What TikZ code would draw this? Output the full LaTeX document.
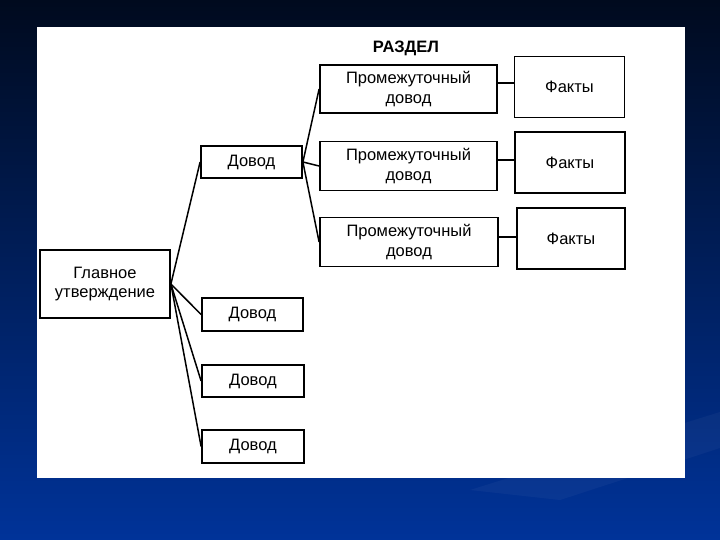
\documentclass[tikz,border=0pt]{standalone}
\usepackage{fontspec}
\setmainfont{Liberation Sans}
\definecolor{bgtop}{HTML}{000A1E}
\definecolor{bgmid}{HTML}{0A2C84}
\definecolor{bgbot}{HTML}{003399}
\begin{document}
\begin{tikzpicture}[x=1pt,y=-1pt,
  box/.style={draw=black,line width=1.8pt,fill=white,inner sep=0pt,align=center,
    font=\fontsize{16.5}{19.5}\selectfont},
  link/.style={draw=black,line width=1.5pt}]
\useasboundingbox (0,0) rectangle (720,540);
\shade[top color=bgtop,middle color=bgmid,bottom color=bgbot] (0,0) rectangle (720,540);
\fill[white,opacity=0.035] (470,490) -- (720,412) -- (720,448) -- (560,500) -- cycle;
\fill[white] (37,27) rectangle (685,478);
% title
\node[font=\bfseries\fontsize{16.5}{19}\selectfont] (title) at (406,48) {РАЗДЕЛ};
% main
\node[box,minimum width=130pt,minimum height=68pt] (main) at (105,284) {Главное\\утверждение};
% arguments
\node[box,minimum width=101pt,minimum height=32pt] (d1) at (251.5,162) {Довод};
\node[box,minimum width=101pt,minimum height=33pt] (d2) at (252.5,314.5) {Довод};
\node[box,minimum width=102pt,minimum height=32pt] (d3) at (253,381) {Довод};
\node[box,minimum width=102pt,minimum height=33pt] (d4) at (253,446.5) {Довод};
% intermediate
\node[box,minimum width=177pt,minimum height=48pt] (p1) at (408.5,89) {Промежуточный\\довод};
\node[box,minimum width=177pt,minimum height=49pt] (p2) at (408.5,166) {Промежуточный\\довод};
\node[box,minimum width=178pt,minimum height=49pt] (p3) at (409,242) {Промежуточный\\довод};
% facts
\node[box,minimum width=110pt,minimum height=61pt] (f1) at (569.5,87) {Факты};
\node[box,minimum width=110pt,minimum height=61pt] (f2) at (570,162.5) {Факты};
\node[box,minimum width=108pt,minimum height=61pt] (f3) at (571,238.5) {Факты};
% connectors
\foreach \d in {d1,d2,d3,d4} \draw[link] (main.east) -- (\d.west);
\foreach \p in {p1,p2,p3} \draw[link] (d1.east) -- (\p.west);
\draw[link] ([yshift=6pt]p1.east) -- ([yshift=6pt]p1.east -| f1.west);
\draw[link] ([yshift=6pt]p2.east) -- ([yshift=6pt]p2.east -| f2.west);
\draw[link] ([yshift=5pt]p3.east) -- ([yshift=5pt]p3.east -| f3.west);
\end{tikzpicture}
\end{document}
